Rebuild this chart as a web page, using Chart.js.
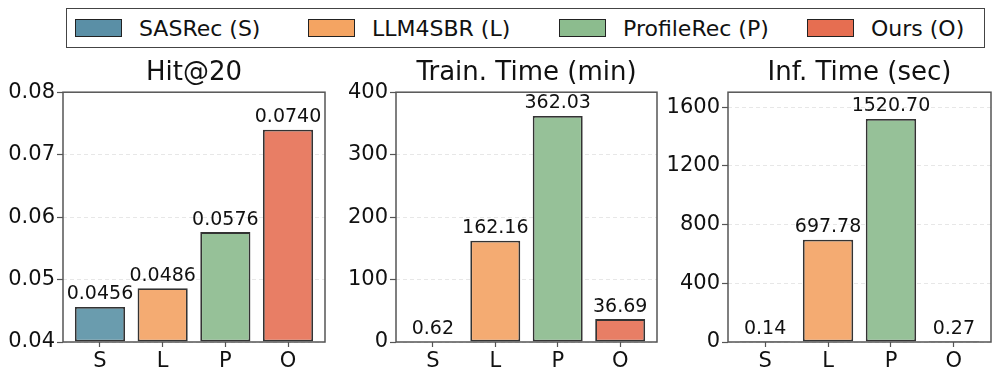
<!DOCTYPE html>
<html>
<head>
<meta charset="utf-8">
<script src="https://cdn.jsdelivr.net/npm/chart.js@4.4.1/dist/chart.umd.min.js"></script>
<style>
  body { margin: 0; background: #fff; font-family: "DejaVu Sans", sans-serif; }
  #wrap { position: relative; width: 996px; height: 379px; overflow: hidden; }
  canvas { position: absolute; top: 50px; }
  #legend { position: absolute; left: 66px; top: 8px; width: 917px; height: 38px;
            border: 1.5px solid #444; box-sizing: content-box; }
  .item { position: absolute; top: 0; height: 38px; display: flex; align-items: center;
          font-size: 22px; color: #111; white-space: nowrap; }
  .patch { width: 45px; height: 16px; border: 1.5px solid #222; margin-right: 17px; }
</style>
</head>
<body>
<div id="wrap">
  <div id="legend"></div>
  <canvas id="c1" width="330" height="329" style="left:0px"></canvas>
  <canvas id="c2" width="332" height="329" style="left:330px"></canvas>
  <canvas id="c3" width="334" height="329" style="left:662px"></canvas>
</div>
<script>
const methods = ["SASRec (S)", "LLM4SBR (L)", "ProfileRec (P)", "Ours (O)"];
const shortLabels = ["S", "L", "P", "O"];
const hitAt20 = [0.0456, 0.0486, 0.0576, 0.0740];
const trainTime = [0.62, 162.16, 362.03, 36.69];
const infTime = [0.14, 697.78, 1520.70, 0.27];
const hitLabels = ["0.0456", "0.0486", "0.0576", "0.0740"];
const trainLabels = ["0.62", "162.16", "362.03", "36.69"];
const infLabels = ["0.14", "697.78", "1520.70", "0.27"];

const legendColors = ["#5a8fa6", "#f4a462", "#8cbc8e", "#e66e51"];
const barColors = ["#6a9cae", "#f4ab72", "#96c198", "#e87e65"];
const FONT = "DejaVu Sans";

// legend (html)
const legendX = [8, 241, 492, 740];
const legend = document.getElementById("legend");
methods.forEach((m, i) => {
  const d = document.createElement("div");
  d.className = "item";
  d.style.left = legendX[i] + "px";
  d.innerHTML = '<div class="patch" style="background:' + legendColors[i] + '"></div>' + m;
  legend.appendChild(d);
});

const frame = {
  id: "frame",
  afterDraw(chart) {
    const a = chart.chartArea, ctx = chart.ctx;
    ctx.save();
    ctx.strokeStyle = "#555";
    ctx.lineWidth = 1.5;
    ctx.strokeRect(a.left, a.top, a.right - a.left, a.bottom - a.top);
    ctx.restore();
  }
};

const valueLabels = {
  id: "valueLabels",
  afterDatasetsDraw(chart, args, opts) {
    const ctx = chart.ctx;
    const meta = chart.getDatasetMeta(0);
    ctx.save();
    ctx.font = "19px '" + FONT + "'";
    ctx.fillStyle = "#111";
    ctx.textAlign = "center";
    ctx.textBaseline = "bottom";
    meta.data.forEach((bar, i) => {
      ctx.fillText(opts.texts[i], bar.x, bar.y - 3);
    });
    ctx.restore();
  }
};

function makeChart(id, title, values, texts, yMin, yMax, yTicks, fmt, axisW) {
  const pts = values.map((v, i) => ({ x: i, y: v }));
  new Chart(document.getElementById(id), {
    type: "bar",
    data: {
      datasets: [{
        data: pts,
        backgroundColor: barColors,
        borderColor: "#333",
        borderWidth: 1.8,
        borderSkipped: false,
        base: yMin,
        barPercentage: 0.8,
        categoryPercentage: 1.0
      }]
    },
    options: {
      responsive: false,
      animation: false,
      devicePixelRatio: 1,
      layout: { padding: { left: 0, right: 5, top: 0, bottom: 0 } },
      plugins: {
        legend: { display: false },
        tooltip: { enabled: false },
        title: {
          display: true, text: title, color: "#111", fullSize: false,
          font: { family: FONT, size: 26, weight: "normal" },
          padding: { top: 8, bottom: 3 }
        },
        valueLabels: { texts: texts }
      },
      scales: {
        x: {
          type: "linear",
          offset: false,
          min: -0.59, max: 3.59,
          afterBuildTicks: s => { s.ticks = [0, 1, 2, 3].map(v => ({ value: v })); },
          afterFit: s => { s.height = 37; },
          ticks: {
            color: "#111", font: { family: FONT, size: 21 }, padding: 2,
            callback: v => shortLabels[v]
          },
          grid: { offset: false, drawOnChartArea: false, drawTicks: true, tickLength: 5,
                  tickColor: "#555", tickWidth: 1.2 },
          border: { display: false }
        },
        y: {
          min: yMin, max: yMax,
          afterBuildTicks: s => { s.ticks = yTicks.map(v => ({ value: v })); },
          afterFit: s => { s.width = axisW; },
          ticks: {
            color: "#111", font: { family: FONT, size: 21 }, padding: 2,
            callback: v => fmt(v)
          },
          grid: { color: "rgba(0,0,0,0.12)", lineWidth: 0.8, drawTicks: true, tickLength: 6,
                  tickColor: "#555", tickWidth: 1.2 },
          border: { display: false, dash: [4, 3] }
        }
      }
    },
    plugins: [frame, valueLabels]
  });
}

makeChart("c1", "Hit@20", hitAt20, hitLabels, 0.04, 0.08,
  [0.04, 0.05, 0.06, 0.07, 0.08], v => v.toFixed(2), 63);
makeChart("c2", "Train. Time (min)", trainTime, trainLabels, 0, 400,
  [0, 100, 200, 300, 400], v => String(Math.round(v)), 66);
makeChart("c3", "Inf. Time (sec)", infTime, infLabels, 0, 1703,
  [0, 400, 800, 1200, 1600], v => String(Math.round(v)), 66);
</script>
</body>
</html>
